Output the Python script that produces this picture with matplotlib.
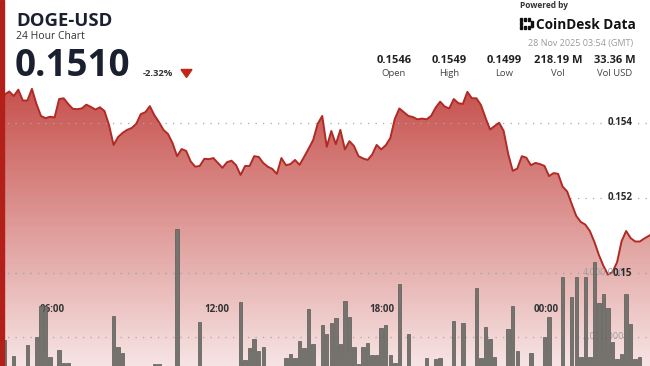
import numpy as np
import matplotlib.pyplot as plt
import matplotlib.patches as mpatches
from matplotlib.transforms import blended_transform_factory

# ------------------------------
# Data (10-min buckets)
# ------------------------------

price = [
    0.15475, 0.15483, 0.15471, 0.15488, 0.15459, 0.15459, 0.15490, 0.15450, 0.15418, 0.15412,
    0.15416, 0.15414, 0.15463, 0.15465, 0.15450, 0.15437, 0.15436, 0.15438, 0.15448, 0.15442,
    0.15435, 0.15441, 0.15431, 0.15394, 0.15341, 0.15362, 0.15373, 0.15381, 0.15386, 0.15397,
    0.15423, 0.15428, 0.15444, 0.15420, 0.15402, 0.15381, 0.15370, 0.15346, 0.15311, 0.15330,
    0.15325, 0.15297, 0.15283, 0.15285, 0.15304, 0.15303, 0.15306, 0.15293, 0.15280, 0.15295,
    0.15299, 0.15287, 0.15261, 0.15285, 0.15285, 0.15311, 0.15309, 0.15293, 0.15283, 0.15277,
    0.15264, 0.15306, 0.15287, 0.15290, 0.15301, 0.15288, 0.15309, 0.15331, 0.15354, 0.15397,
    0.15418, 0.15336, 0.15378, 0.15343, 0.15381, 0.15329, 0.15351, 0.15338, 0.15311, 0.15305,
    0.15301, 0.15315, 0.15341, 0.15329, 0.15340, 0.15359, 0.15410, 0.15438, 0.15428, 0.15418,
    0.15415, 0.15409, 0.15411, 0.15409, 0.15418, 0.15440, 0.15456, 0.15443, 0.15438, 0.15463,
    0.15452, 0.15450, 0.15482, 0.15465, 0.15465, 0.15447, 0.15413, 0.15382, 0.15391, 0.15400,
    0.15378, 0.15317, 0.15272, 0.15278, 0.15311, 0.15307, 0.15287, 0.15293, 0.15290, 0.15285,
    0.15258, 0.15266, 0.15264, 0.15230, 0.15217, 0.15184, 0.15152, 0.15136, 0.15129, 0.15112,
    0.15083, 0.15048, 0.15019, 0.14996, 0.15003, 0.15029, 0.15085, 0.15112, 0.15093, 0.15084,
    0.15084, 0.15092, 0.15099, 0.15107,
]

volume_m = [
    1.90, 0.80, 1.40, 0.90, 0.70, 1.74, 1.00, 2.00, 2.96, 2.96,
    1.38, 0.90, 1.58, 1.19, 1.19, 0.80, 0.60, 0.70, 0.50, 0.60,
    0.70, 0.80, 0.60, 0.90, 2.65, 1.67, 1.48, 0.90, 0.70, 0.60,
    0.80, 0.90, 1.10, 1.14, 1.14, 1.10, 0.80, 0.90, 5.36, 0.80,
    0.70, 0.60, 0.90, 2.47, 0.80, 0.60, 0.70, 0.90, 0.60, 0.80,
    0.90, 1.00, 3.07, 1.27, 1.64, 1.92, 1.56, 1.67, 0.90, 0.70,
    0.80, 1.00, 1.32, 1.45, 1.32, 1.88, 1.64, 2.86, 1.77, 1.00,
    2.37, 2.08, 2.42, 2.57, 1.77, 3.12, 2.63, 1.67, 1.15, 1.67,
    1.79, 1.43, 1.43, 2.28, 2.37, 1.43, 1.17, 3.64, 0.90, 2.10,
    0.80, 0.70, 1.00, 1.32, 0.90, 1.29, 1.32, 0.80, 1.00, 2.50,
    0.90, 2.42, 0.80, 1.00, 3.51, 1.32, 2.31, 1.92, 1.38, 0.90,
    0.80, 2.24, 2.97, 1.55, 0.90, 0.70, 1.48, 0.80, 1.00, 1.98,
    2.63, 0.90, 1.00, 3.86, 1.00, 3.23, 3.86, 1.38, 3.86, 1.38,
    4.34, 3.06, 3.33, 2.91, 1.83, 1.29, 1.46, 3.33, 2.39, 1.29,
    1.38, 0.90, 0.80, 0.70,
]

time_labels = ["06:00", "12:00", "18:00", "00:00"]
time_pos = [10.45, 46.83, 83.2, 119.44]   # in bucket index units

price_ticks = [0.154, 0.152, 0.150]
price_tick_labels = ["0.154", "0.152", "0.15"]
vol_ticks = [2_000_000, 4_000_000]
vol_tick_labels = ["2,000,000", "4,000,000"]

stat_values = ["0.1546", "0.1549", "0.1499", "218.19 M", "33.36 M"]
stat_names = ["Open", "High", "Low", "Vol", "Vol USD"]

# ------------------------------
# Figure
# ------------------------------

W, H = 650, 366
plt.rcParams['font.family'] = ['Open Sans', 'DejaVu Sans']
fig = plt.figure(figsize=(W / 100, H / 100), dpi=100)

def fx(px):
    return px / W

def fy(py):
    return 1 - py / H

# chart area runs below the bottom edge of the image
ax = fig.add_axes([0, fy(400.7), 1, (400.7 - 85) / H])
axv = ax.twinx()

p_lo, p_hi = 0.146606, 0.155003
ax.set_ylim(p_lo, p_hi)
axv.set_ylim(0, 9.866e6)
x = np.arange(len(price))
ax.set_xlim(-1.036, 142.26)
ax.axis("off")
axv.axis("off")

# gradient area under the price line
fill = ax.fill_between(x, price, p_lo, color="none", lw=0)
grad = np.zeros((256, 1, 4))
grad[:, 0, 0] = 0.74
grad[:, 0, 1] = 0.19
grad[:, 0, 2] = 0.17
grad[:, 0, 3] = np.linspace(0.85, 0.04, 256)
im = ax.imshow(grad, extent=[x[0] - 2, x[-1] + 2, p_lo, p_hi], aspect="auto",
               origin="upper", zorder=1)
im.set_clip_path(fill.get_paths()[0], transform=ax.transData)

ax.plot(x, price, color="#b02b25", lw=1.4, zorder=3)

for p in price_ticks:
    ax.axhline(p, color="#a8a8a8", lw=0.9, ls=(0, (1, 5)), zorder=2)
for v in vol_ticks:
    axv.axhline(v, color="#a8a8a8", lw=0.9, ls=(0, (1, 5)), zorder=0)

# volume bars
vol = np.array(volume_m) * 1e6
axv.bar(x, vol, width=0.76, color="#74736e", edgecolor="#5a5955", lw=0.5, zorder=2)

tr_vol = blended_transform_factory(axv.transAxes, axv.transData)
for v, lab in zip(vol_ticks, vol_tick_labels):
    axv.text(624 / W, v, lab, transform=tr_vol, ha="right", va="center",
             fontsize=6.5, color="#9c9c9c", zorder=1)

tr_price = blended_transform_factory(axv.transAxes, ax.transData)
for p, lab in zip(price_ticks, price_tick_labels):
    axv.text(632 / W, p, lab, transform=tr_price, ha="right", va="center",
             fontsize=7, fontweight="bold", color="#2a2a2a", zorder=5)

tr_time = blended_transform_factory(ax.transData, axv.transAxes)
for t, lab in zip(time_pos, time_labels):
    axv.text(t, (400.7 - 310) / (400.7 - 85), lab, transform=tr_time, ha="center",
             va="center", fontsize=7, fontweight="bold", color="#333333", zorder=1)

# ------------------------------
# Header
# ------------------------------

fig.patches.append(mpatches.Rectangle((0, 0), fx(4), 1, transform=fig.transFigure,
                                      color="#b3201a", zorder=10))

navy = "#1b2030"
fig.text(fx(16), fy(26), "DOGE-USD", fontsize=13.3, fontweight="bold", color=navy, va="baseline")
fig.text(fx(16), fy(39), "24 Hour Chart", fontsize=7.5, color="#333333", va="baseline")
fig.text(fx(15), fy(76), "0.1510", fontsize=26.5, fontweight="bold", color=navy, va="baseline")
fig.text(fx(143), fy(76.5), "-2.32%", fontsize=6.8, fontweight="bold", color="#333333", va="baseline")
fig.patches.append(mpatches.Polygon([[fx(181), fy(69.5)], [fx(192), fy(69.5)], [fx(186.5), fy(77.5)]],
                                    closed=True, transform=fig.transFigure, color="#c42519"))

fig.text(fx(520), fy(8), "Powered by", fontsize=6, fontweight="bold", color="#333333", va="baseline")
# small logo mark
for cx, cy in [(519.5, 18), (519.5, 22), (519.5, 26), (523.5, 18), (523.5, 26),
               (527.5, 18), (527.5, 26), (530.5, 21), (530.5, 24)]:
    fig.patches.append(mpatches.Rectangle((fx(cx), fy(cy + 2.6)), 2.6 / W, 2.6 / H,
                                          transform=fig.transFigure, color="#111111"))
fig.text(fx(536), fy(29), "CoinDesk Data", fontsize=9.8, fontweight="bold", color="#111111", va="baseline")
fig.text(fx(633), fy(46), "28 Nov 2025 03:54 (GMT)", fontsize=6.5, color="#9a9a9a",
         ha="right", va="baseline")

stat_x = [394, 449, 504, 558, 615]
for sx, val, name in zip(stat_x, stat_values, stat_names):
    fig.text(fx(sx), fy(63.3), val, fontsize=8, fontweight="bold", color="#222222",
             ha="center", va="baseline")
    fig.text(fx(sx), fy(75.5), name, fontsize=6.8, color="#444444", ha="center", va="baseline")

fig.savefig("out.png", dpi=100)
